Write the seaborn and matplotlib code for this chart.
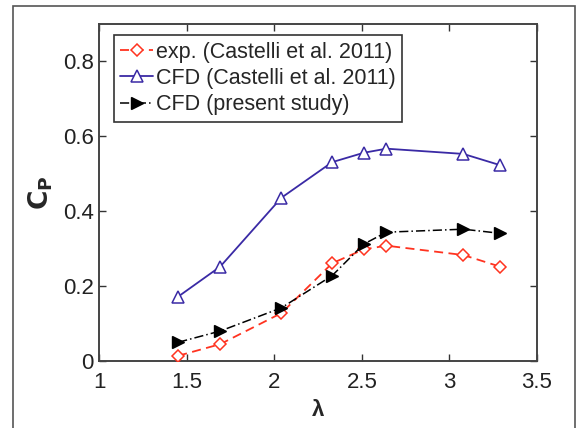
import numpy as np
import pandas as pd
import matplotlib
matplotlib.use("Agg")
import matplotlib.pyplot as plt
import seaborn as sns
from matplotlib.patches import Rectangle

# Tip speed ratio and power coefficient for the three data sets
tsr = [1.45, 1.69, 2.04, 2.33, 2.51, 2.64, 3.08, 3.29]
cp_exp = [0.014, 0.045, 0.128, 0.261, 0.298, 0.308, 0.283, 0.252]
cp_cfd_castelli = [0.172, 0.252, 0.436, 0.531, 0.556, 0.567, 0.553, 0.523]
cp_cfd_present = [0.050, 0.080, 0.142, 0.228, 0.312, 0.344, 0.352, 0.341]

labels = ["exp. (Castelli et al. 2011)",
          "CFD (Castelli et al. 2011)",
          "CFD (present study)"]

x_ticks = [1, 1.5, 2, 2.5, 3, 3.5]
x_ticklabels = ["1", "1.5", "2", "2.5", "3", "3.5"]
y_ticks = [0, 0.2, 0.4, 0.6, 0.8]
y_ticklabels = ["0", "0.2", "0.4", "0.6", "0.8"]

df = pd.DataFrame({
    "tsr": tsr * 3,
    "cp": cp_exp + cp_cfd_castelli + cp_cfd_present,
    "series": [labels[0]] * len(tsr) + [labels[1]] * len(tsr) + [labels[2]] * len(tsr),
})

sns.set_theme(style="ticks")
plt.rcParams["font.family"] = ["Liberation Sans", "DejaVu Sans"]
plt.rcParams["xtick.direction"] = "in"
plt.rcParams["ytick.direction"] = "in"

fig = plt.figure(figsize=(5.76, 4.28), dpi=100)
ax = fig.add_axes([0.1727, 0.1565, 0.932 - 0.1727, 0.944 - 0.1565])

styles = {
    labels[0]: dict(color="#ff3320", linestyle=(0, (5, 3)), marker="D", ms=6.5,
                    mfc="white", mec="#ff3320", mew=1.1, lw=1.3),
    labels[1]: dict(color="#3a2aa5", linestyle="-", marker="^", ms=8.5,
                    mfc="white", mec="#3a2aa5", mew=1.1, lw=1.3),
    labels[2]: dict(color="black", linestyle=(0, (6, 2, 1, 2)), marker=">", ms=9,
                    mfc="black", mec="black", mew=1.0, lw=1.1),
}

for name in labels:
    st = styles[name]
    sub = df[df["series"] == name]
    sns.lineplot(data=sub, x="tsr", y="cp", ax=ax, label=name,
                 color=st["color"], linestyle=st["linestyle"], linewidth=st["lw"],
                 marker=st["marker"], markersize=st["ms"],
                 markerfacecolor=st["mfc"], markeredgecolor=st["mec"],
                 markeredgewidth=st["mew"], zorder=3)

ax.set_xlim(1, 3.5)
ax.set_ylim(0, 0.9)
ax.set_xticks(x_ticks)
ax.set_xticklabels(x_ticklabels)
ax.set_yticks(y_ticks)
ax.set_yticklabels(y_ticklabels)
ax.tick_params(axis="both", which="both", direction="in", length=5, width=1,
               colors="#333333", labelcolor="#222222", labelsize=16,
               top=True, right=True)
ax.tick_params(axis="x", pad=8)
ax.tick_params(axis="y", pad=4)
for sp in ax.spines.values():
    sp.set_visible(True)
    sp.set_color("#444444")
    sp.set_linewidth(1.4)

ax.set_xlabel("λ", fontsize=16, fontweight="bold", labelpad=5)
ax.set_ylabel(r"$\mathbf{C_P}$", fontsize=19, labelpad=6)

leg = ax.legend(loc="upper left", bbox_to_anchor=(0.033, 0.967), fontsize=15.5,
                frameon=True, fancybox=False, edgecolor="#333333",
                framealpha=1, handlelength=1.5, handletextpad=0.15,
                borderpad=0.3, labelspacing=0.25, borderaxespad=0)
leg.get_frame().set_linewidth(1.2)

# Thin outer border around the figure
fig.patches.append(Rectangle((12.7 / 576, -0.05), (575 - 12.7) / 576, 1.05 - 6 / 428,
                             transform=fig.transFigure, fill=False,
                             edgecolor="#555555", linewidth=1.2, zorder=0))

fig.savefig("out.png", dpi=100, facecolor="white")
